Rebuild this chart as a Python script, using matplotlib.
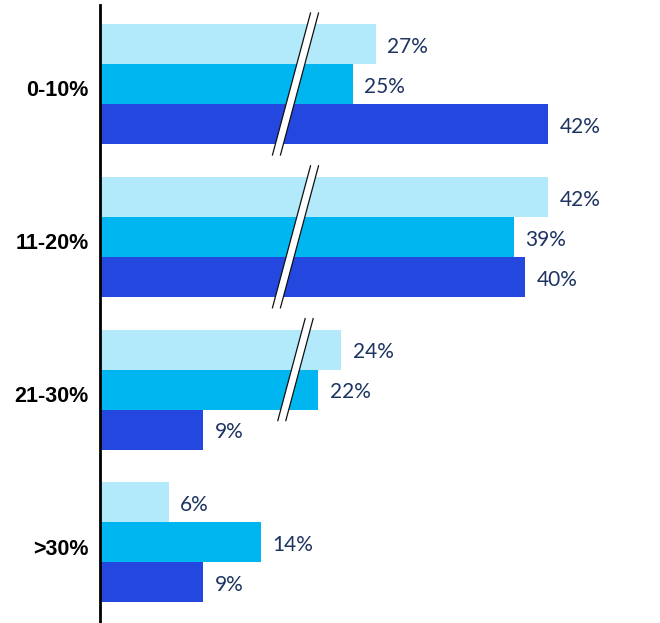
import numpy as np
import matplotlib.pyplot as plt
from matplotlib.patches import Polygon
from matplotlib.transforms import blended_transform_factory, ScaledTranslation

groups = ["0-10%", "11-20%", "21-30%", ">30%"]
series_a = [27, 42, 24, 6]   # light
series_b = [25, 39, 22, 14]  # mid
series_c = [42, 40, 9, 9]    # dark
colors = ["#b2eafb", "#00b6f0", "#2347df"]

# axis break: values above brk are shifted left by gap
brk = 17.0
gap = 3.0


def fwd(x):
    x = np.asarray(x, dtype=float)
    return np.where(x < brk, x, np.where(x < brk + gap, brk, x - gap))


def inv(y):
    y = np.asarray(y, dtype=float)
    return np.where(y < brk, y, y + gap)


fig = plt.figure(figsize=(6.6, 6.23), dpi=100)
ax = fig.add_axes([100 / 660, 0.0, 550 / 660, 1 - 5 / 623])
ax.set_xscale("function", functions=(fwd, inv))

pitch = 3.82
centers = np.arange(len(groups)) * pitch
all_series = [series_a, series_b, series_c]
offsets = [-1, 0, 1]

for s, vals in enumerate(all_series):
    ys = centers + offsets[s]
    ax.barh(ys, vals, height=1.0, color=colors[s], zorder=2)
    for y, v in zip(ys, vals):
        ax.annotate(f"{v}%", (v, y), xytext=(8, -2), textcoords="offset points",
                    va="center", ha="left", fontsize=15, color="#1d3361",
                    family="Lato", fontweight="normal")

xmax = 47.83 + gap
ax.set_xlim(0, xmax)
ax.set_ylim((623 - 84) / 40, (5 - 84) / 40)

# break marks on the bars that cross the break
tr = blended_transform_factory(ax.transAxes, ax.transData)
xc = brk / (xmax - gap)
slope = 0.268 * 40 / 550
hw = 4 / 550
ext = 11 / 40
for g in range(len(groups)):
    crossing = [s for s in range(3) if all_series[s][g] > brk]
    if not crossing:
        continue
    y0 = centers[g] + offsets[min(crossing)] - 0.5 - ext
    y1 = centers[g] + offsets[max(crossing)] + 0.5 + ext
    ym = (y0 + y1) / 2
    # y axis is inverted: smaller y is higher, line leans right going up
    def xat(y, side):
        return xc + side * hw - (y - ym) * slope
    poly = Polygon([(xat(y0, -1), y0), (xat(y0, 1), y0),
                    (xat(y1, 1), y1), (xat(y1, -1), y1)],
                   closed=True, transform=tr, facecolor="white",
                   edgecolor="none", zorder=3)
    ax.add_patch(poly)
    for side in (-1, 1):
        ax.plot([xat(y0, side), xat(y1, side)], [y0, y1], transform=tr,
                color="#111111", lw=0.9, zorder=4)

ax.set_yticks(centers)
ax.set_yticklabels(groups, fontsize=15.5, fontweight="bold", color="black",
                   family="Liberation Sans")
ax.tick_params(axis="y", length=0, pad=8)
shift = ScaledTranslation(0, -5 / 72, fig.dpi_scale_trans)
for lbl in ax.get_yticklabels():
    lbl.set_va("center")
    lbl.set_transform(lbl.get_transform() + shift)
ax.set_xticks([])
for side in ("top", "right", "bottom"):
    ax.spines[side].set_visible(False)
ax.spines["left"].set_linewidth(2)
ax.spines["left"].set_color("black")

fig.savefig("out.png", dpi=100)
